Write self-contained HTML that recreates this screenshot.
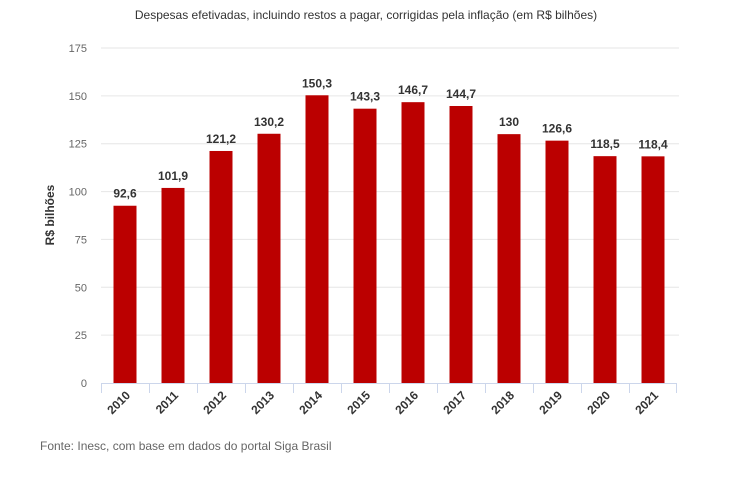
<!DOCTYPE html>
<html><head><meta charset="utf-8"><style>
body{margin:0;background:#fff;}
svg{display:block;font-family:"Liberation Sans",sans-serif;}
</style></head><body>
<svg width="737" height="482">
<text x="366" y="19" text-anchor="middle" font-size="12" fill="#333">Despesas efetivadas, incluindo restos a pagar, corrigidas pela inflação (em R$ bilhões)</text>
<g id="grid"></g><g id="bars"></g><g id="xl"></g>
<text transform="translate(54,215) rotate(-90)" text-anchor="middle" font-size="12" font-weight="bold" fill="#333">R$ bilhões</text>
<text x="40" y="450" font-size="12" fill="#666">Fonte: Inesc, com base em dados do portal Siga Brasil</text>
</svg>
<script>
const categories=["2010","2011","2012","2013","2014","2015","2016","2017","2018","2019","2020","2021"];
const values=[92.6,101.9,121.2,130.2,150.3,143.3,146.7,144.7,130,126.6,118.5,118.4];
const valueLabels=["92,6","101,9","121,2","130,2","150,3","143,3","146,7","144,7","130","126,6","118,5","118,4"];
const yTicks=[0,25,50,75,100,125,150,175];
const NS="http://www.w3.org/2000/svg";
const x0=101,band=48,bw=23,yBase=383,yTop=48,yMax=175;
const y=v=>yBase-(v/yMax)*(yBase-yTop);
const xc=i=>x0+band*i+band/2;
function mk(t,a,p,txt){const e=document.createElementNS(NS,t);for(const k in a)e.setAttribute(k,a[k]);if(txt!==undefined)e.textContent=txt;p.appendChild(e);return e;}
const g=document.getElementById('grid'),b=document.getElementById('bars'),xl=document.getElementById('xl');
yTicks.forEach(v=>{
 if(v>0){const l=mk('line',{x1:x0,x2:679,y1:y(v),y2:y(v),stroke:'#e6e6e6'},g);
 
 }
 const t=mk('text',{x:87,y:y(v)+4,'text-anchor':'end','font-size':11,fill:'#666'},g,String(v));
 
 
});
const ax=mk('line',{x1:x0,x2:x0+band*categories.length,y1:yBase+0.5,y2:yBase+0.5,stroke:'#ccd6eb'},g);


categories.forEach((c,i)=>{
 const tk=mk('line',{x1:x0+band*i+0.5,x2:x0+band*i+0.5,y1:yBase,y2:yBase+10,stroke:'#ccd6eb'},g);
 
 
 const r=mk('rect',{x:xc(i)-bw/2,y:y(values[i]),width:bw,height:yBase-y(values[i]),fill:'#bb0000'},b);
 
 
 const vl=mk('text',{x:xc(i),y:y(values[i])-8,'text-anchor':'middle','font-size':12,'font-weight':'bold',fill:'#333'},b,valueLabels[i]);
 
 
 const xt=mk('text',{transform:`translate(${xc(i)+6},${yBase+13}) rotate(-45)`,'text-anchor':'end','font-size':12,'font-weight':'bold',fill:'#333'},xl,c);
 
 
});
const tk=mk('line',{x1:x0+band*12-0.5,x2:x0+band*12-0.5,y1:yBase,y2:yBase+10,stroke:'#ccd6eb'},g);


</script>
</body></html>
